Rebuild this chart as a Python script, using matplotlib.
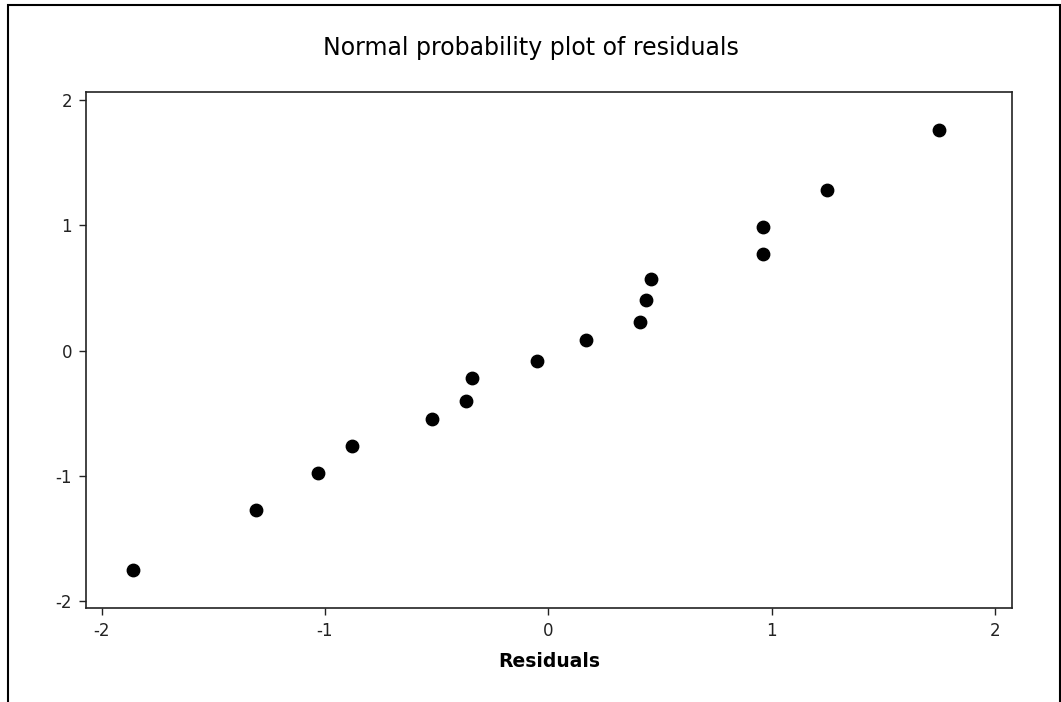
import matplotlib
matplotlib.use('Agg')
import matplotlib.pyplot as plt
from matplotlib.patches import Rectangle

# residuals vs normal scores
residuals = [-1.86, -1.31, -1.03, -0.88, -0.52, -0.37, -0.34, -0.05,
             0.17, 0.41, 0.44, 0.46, 0.96, 0.96, 1.25, 1.75]
normal_scores = [-1.75, -1.27, -0.98, -0.76, -0.55, -0.40, -0.22, -0.08,
                 0.08, 0.23, 0.40, 0.57, 0.77, 0.99, 1.28, 1.76]
ticks = [-2, -1, 0, 1, 2]

plt.rcParams['axes.unicode_minus'] = False
plt.rcParams['font.family'] = 'DejaVu Sans'

fig = plt.figure(figsize=(10.61, 7.02), dpi=100)
ax = fig.add_axes([0.0811, 0.1339, 0.8727, 0.735])

ax.scatter(residuals, normal_scores, s=80, color='black', zorder=3)

ax.set_xlim(-2.07, 2.077)
ax.set_ylim(-2.056, 2.064)
ax.set_xticks(ticks)
ax.set_yticks(ticks)
ax.tick_params(direction='out', length=5, width=1, labelsize=12, pad=5, colors='#222222')
for sp in ax.spines.values():
    sp.set_linewidth(1.2)
    sp.set_color('#222222')

ax.set_xlabel('Residuals', fontsize=13.5, fontweight='bold', labelpad=9)
fig.text(0.5, 1 - 48 / 702, 'Normal probability plot of residuals',
         ha='center', va='center', fontsize=17)

# outer frame
fig.patches.append(Rectangle((8 / 1061, -0.01), 1052 / 1061, 1.01 - 5 / 702,
                             transform=fig.transFigure, fill=False,
                             edgecolor='black', linewidth=1.5))

fig.savefig('out.png', dpi=100)
